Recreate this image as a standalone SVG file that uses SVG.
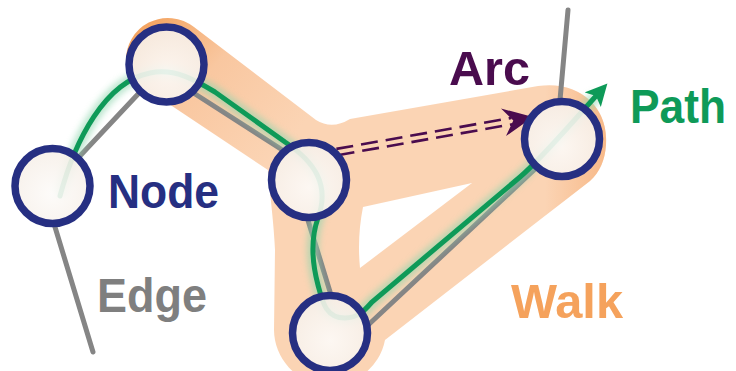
<svg xmlns="http://www.w3.org/2000/svg" width="736" height="371" viewBox="0 0 736 371">
  <defs>
    <linearGradient id="bandGrad" gradientUnits="userSpaceOnUse" x1="130" y1="30" x2="270" y2="160">
      <stop offset="0" stop-color="#f3a15c"/>
      <stop offset="0.45" stop-color="#f9c7a0"/>
      <stop offset="1" stop-color="#fbd4b4"/>
    </linearGradient>
    <linearGradient id="bandRight" gradientUnits="userSpaceOnUse" x1="545" y1="0" x2="610" y2="0">
      <stop offset="0" stop-color="#f4a060" stop-opacity="0"/>
      <stop offset="1" stop-color="#f4a060" stop-opacity="0.55"/>
    </linearGradient>
    <linearGradient id="tailDown" gradientUnits="userSpaceOnUse" x1="55" y1="227" x2="93" y2="352">
      <stop offset="0" stop-color="#858585"/>
      <stop offset="1" stop-color="#858585" stop-opacity="0.1"/>
    </linearGradient>
    <linearGradient id="tailUp" gradientUnits="userSpaceOnUse" x1="560" y1="100" x2="568" y2="10">
      <stop offset="0" stop-color="#858585"/>
      <stop offset="1" stop-color="#858585" stop-opacity="0.15"/>
    </linearGradient>
    <radialGradient id="nodeFill" cx="0.5" cy="0.6" r="0.6">
      <stop offset="0" stop-color="#fdfbf9"/>
      <stop offset="1" stop-color="#f6efe8"/>
    </radialGradient>
    <filter id="blur" x="-20%" y="-20%" width="140%" height="140%">
      <feGaussianBlur stdDeviation="3"/>
    </filter>
    <marker id="greenHead" markerUnits="userSpaceOnUse" markerWidth="24" markerHeight="24" refX="5" refY="11" orient="auto">
      <path d="M0,0 L22,11 L0,22 L5,11 Z" fill="#0e9a58"/>
    </marker>
  </defs>
  <style>
    .node circle { fill: url(#nodeFill); fill-opacity: 0.9; stroke: #262f82; stroke-width: 7.5; }
    .edge { stroke: #858585; stroke-width: 5; fill: none; stroke-linecap: round; }
    .arc { stroke: #4a0c4e; stroke-width: 2.6; fill: none; stroke-dasharray: 17 8; }
    .label { font-family: "Liberation Sans", Arial, sans-serif; font-weight: bold; font-size: 49px; }
  </style>

  <g id="walk-band">
    <path fill="url(#bandGrad)" fill-rule="evenodd" d="M126,62 A42,42 0 0 1 194,27 L316,120 Q332,130 350,119 L538,86 C578,80 609,106 606,145 C605,160 600,172 590,181 L385,340 A56,56 0 0 1 274,330 L275,250 C274,225 270,195 268,170 L163,100 Q134,88 126,62 Z M363,207 L472,183 L360,268 Q357,237 363,207 Z"/>
    <path fill="url(#bandRight)" d="M538,86 C578,80 609,106 606,145 C605,160 600,172 590,181 L540,220 L540,86 Z"/>
  </g>

  <g id="connectors">
    <line class="edge" x1="78" y1="158" x2="140" y2="92"/>
    <line class="edge" x1="192" y1="92" x2="284" y2="151"/>
    <line class="edge" x1="307" y1="217" x2="331" y2="295"/>
    <line class="edge" x1="366" y1="327" x2="535" y2="169"/>
    <line class="edge" x1="55" y1="227" x2="93" y2="352" stroke="url(#tailDown)"/>
    <line class="edge" x1="560" y1="100" x2="568" y2="10" stroke="url(#tailUp)"/>
    <path d="M60,196 C75,140 105,82 150,73 C175,68 195,80 215,92 L285,142 C315,162 330,185 318,218 C312,235 310,255 318,285 C322,300 325,318 345,318 C358,318 365,310 372,302 L520,177 C540,160 568,127 596,96" fill="none" stroke="#8fd6ae" stroke-width="12" opacity="0.6" filter="url(#blur)"/>
    <path id="path-line" d="M60,196 C75,140 105,82 150,73 C175,68 195,80 215,92 L285,142 C315,162 330,185 318,218 C312,235 310,255 318,285 C322,300 325,318 345,318 C358,318 365,310 372,302 L520,177 C540,160 568,127 596,96" fill="none" stroke="#0e9a58" stroke-width="5" stroke-linecap="round" marker-end="url(#greenHead)"/>
    <path class="arc" d="M337.6,155.2 L512.6,124.2"/>
    <path class="arc" d="M336.4,148.9 L511.4,117.9"/>
    <path d="M533,117 L501,108.5 L513.3,120.5 L506,136.1 Z" fill="#4a0c4e"/>
  </g>

  <g id="node1" class="node"><circle cx="52.5" cy="186" r="37.5"/></g>
  <g id="node2" class="node"><circle cx="166.5" cy="64.5" r="37.5"/></g>
  <g id="node3" class="node"><circle cx="309" cy="180" r="37.5"/></g>
  <g id="node4" class="node"><circle cx="330" cy="333" r="37.5"/></g>
  <g id="node5" class="node"><circle cx="562" cy="139" r="37.5"/></g>

  <g id="labels">
    <text class="label" x="108" y="208" fill="#262f82" textLength="111" lengthAdjust="spacingAndGlyphs">Node</text>
    <text class="label" x="97" y="312" fill="#7f7f7f" textLength="110" lengthAdjust="spacingAndGlyphs">Edge</text>
    <text class="label" x="449" y="85" fill="#4a0c4e" textLength="81" lengthAdjust="spacingAndGlyphs">Arc</text>
    <text class="label" x="630" y="123" fill="#0e9a58" font-size="45" textLength="96" lengthAdjust="spacingAndGlyphs">Path</text>
    <text class="label" x="511" y="318" fill="#f5a25c" textLength="112" lengthAdjust="spacingAndGlyphs">Walk</text>
  </g>
</svg>
